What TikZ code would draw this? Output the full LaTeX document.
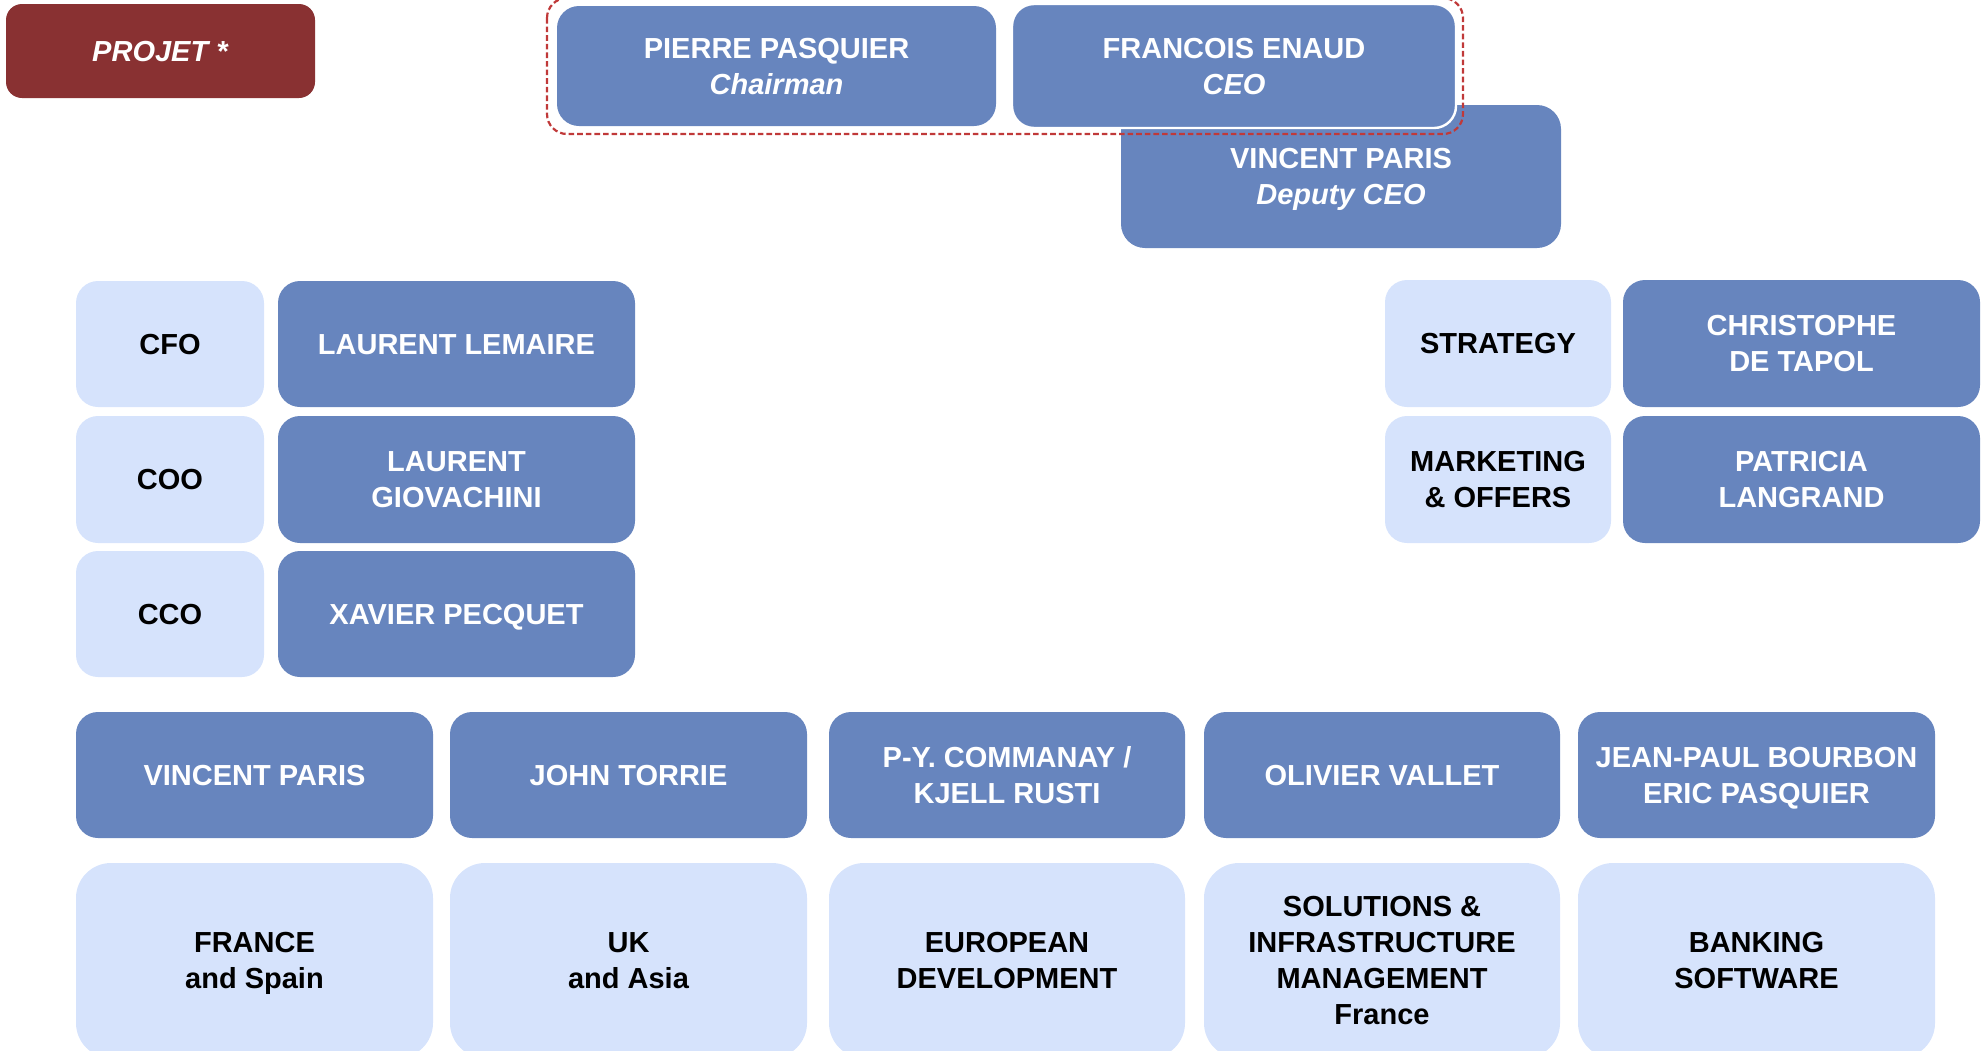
\documentclass[tikz,border=0pt]{standalone}
\usepackage{fontspec}
\setmainfont{Liberation Sans}
\definecolor{darkbox}{RGB}{103,133,190}
\definecolor{lightbox}{RGB}{214,227,252}
\definecolor{projred}{RGB}{137,49,50}
\definecolor{dashred}{RGB}{192,57,57}
\tikzset{
  base/.style={rectangle, inner sep=0pt, outer sep=0pt, align=center,
    font=\fontsize{14.5}{18}\selectfont\bfseries, rounded corners=11pt},
  darkbx/.style={base, fill=darkbox, text=white},
  lightbx/.style={base, fill=lightbox, text=black},
  lightbig/.style={lightbx, rounded corners=17.5pt},
  projbx/.style={base, fill=projred, text=white, rounded corners=8pt},
  ceobx/.style={darkbx, draw=white, line width=1.2pt},
  groupline/.style={draw=dashred, line width=1.1pt, dash pattern=on 2.8pt off 1.5pt, rounded corners=10pt}
}
\newcommand\bx[7]{\node[#2, minimum width={0.5pt*(#5-#3)}, minimum height={0.5pt*(#6-#4)}] (#1) at ({(#3+#5)/2},{(#4+#6)/2}) {\rule{0pt}{13.4pt}#7\rule[-3pt]{0pt}{0pt}};}
\begin{document}
\begin{tikzpicture}[x=0.5pt,y=-0.5pt]
\useasboundingbox (0,0) rectangle (1984,1050);
% top
\bx{projet}{projbx}{6}{4}{315}{98}{\textit{PROJET *}}
\bx{pierre}{darkbx}{557}{6}{996}{126}{PIERRE PASQUIER\\\textit{Chairman}}
\bx{deputy}{darkbx, rounded corners=12pt}{1121}{105}{1561}{248}{VINCENT PARIS\\\textit{Deputy CEO}}
\bx{francois}{ceobx}{1012}{4}{1456}{128}{FRANCOIS ENAUD\\\textit{CEO}}
\coordinate (g1) at (547,-2);
\coordinate (g2) at (1463,134);
\draw[groupline] (g1) rectangle (g2);
% left block
\bx{cfo}{lightbx}{76}{281}{264}{407}{CFO}
\bx{lemaire}{darkbx}{278}{281}{635}{407}{LAURENT LEMAIRE}
\bx{coo}{lightbx}{76}{416}{264}{543}{COO}
\bx{giov}{darkbx}{278}{416}{635}{543}{LAURENT\\GIOVACHINI}
\bx{cco}{lightbx}{76}{551}{264}{677}{CCO}
\bx{pecquet}{darkbx}{278}{551}{635}{677}{XAVIER PECQUET}
% right block
\bx{strategy}{lightbx}{1385}{280}{1611}{407}{STRATEGY}
\bx{tapol}{darkbx}{1623}{280}{1980}{407}{CHRISTOPHE\\DE TAPOL}
\bx{marketing}{lightbx}{1385}{416}{1611}{543}{MARKETING\\\& OFFERS}
\bx{langrand}{darkbx}{1623}{416}{1980}{543}{PATRICIA\\LANGRAND}
% bottom heads
\bx{vp}{darkbx}{76}{712}{433}{838}{VINCENT PARIS}
\bx{jt}{darkbx}{450}{712}{807}{838}{JOHN TORRIE}
\bx{py}{darkbx}{829}{712}{1185}{838}{P-Y. COMMANAY /\\KJELL RUSTI}
\bx{ov}{darkbx}{1204}{712}{1560}{838}{OLIVIER VALLET}
\bx{jp}{darkbx}{1578}{712}{1935}{838}{JEAN-PAUL BOURBON\\ERIC PASQUIER}
% bottom units
\bx{fr}{lightbig}{76}{863}{433}{1058}{FRANCE\\and Spain}
\bx{uk}{lightbig}{450}{863}{807}{1058}{UK\\and Asia}
\bx{eu}{lightbig}{829}{863}{1185}{1058}{EUROPEAN\\DEVELOPMENT}
\bx{sim}{lightbig}{1204}{863}{1560}{1058}{SOLUTIONS \&\\INFRASTRUCTURE\\MANAGEMENT\\France}
\bx{bs}{lightbig}{1578}{863}{1935}{1058}{BANKING\\SOFTWARE}
\end{tikzpicture}
\end{document}
